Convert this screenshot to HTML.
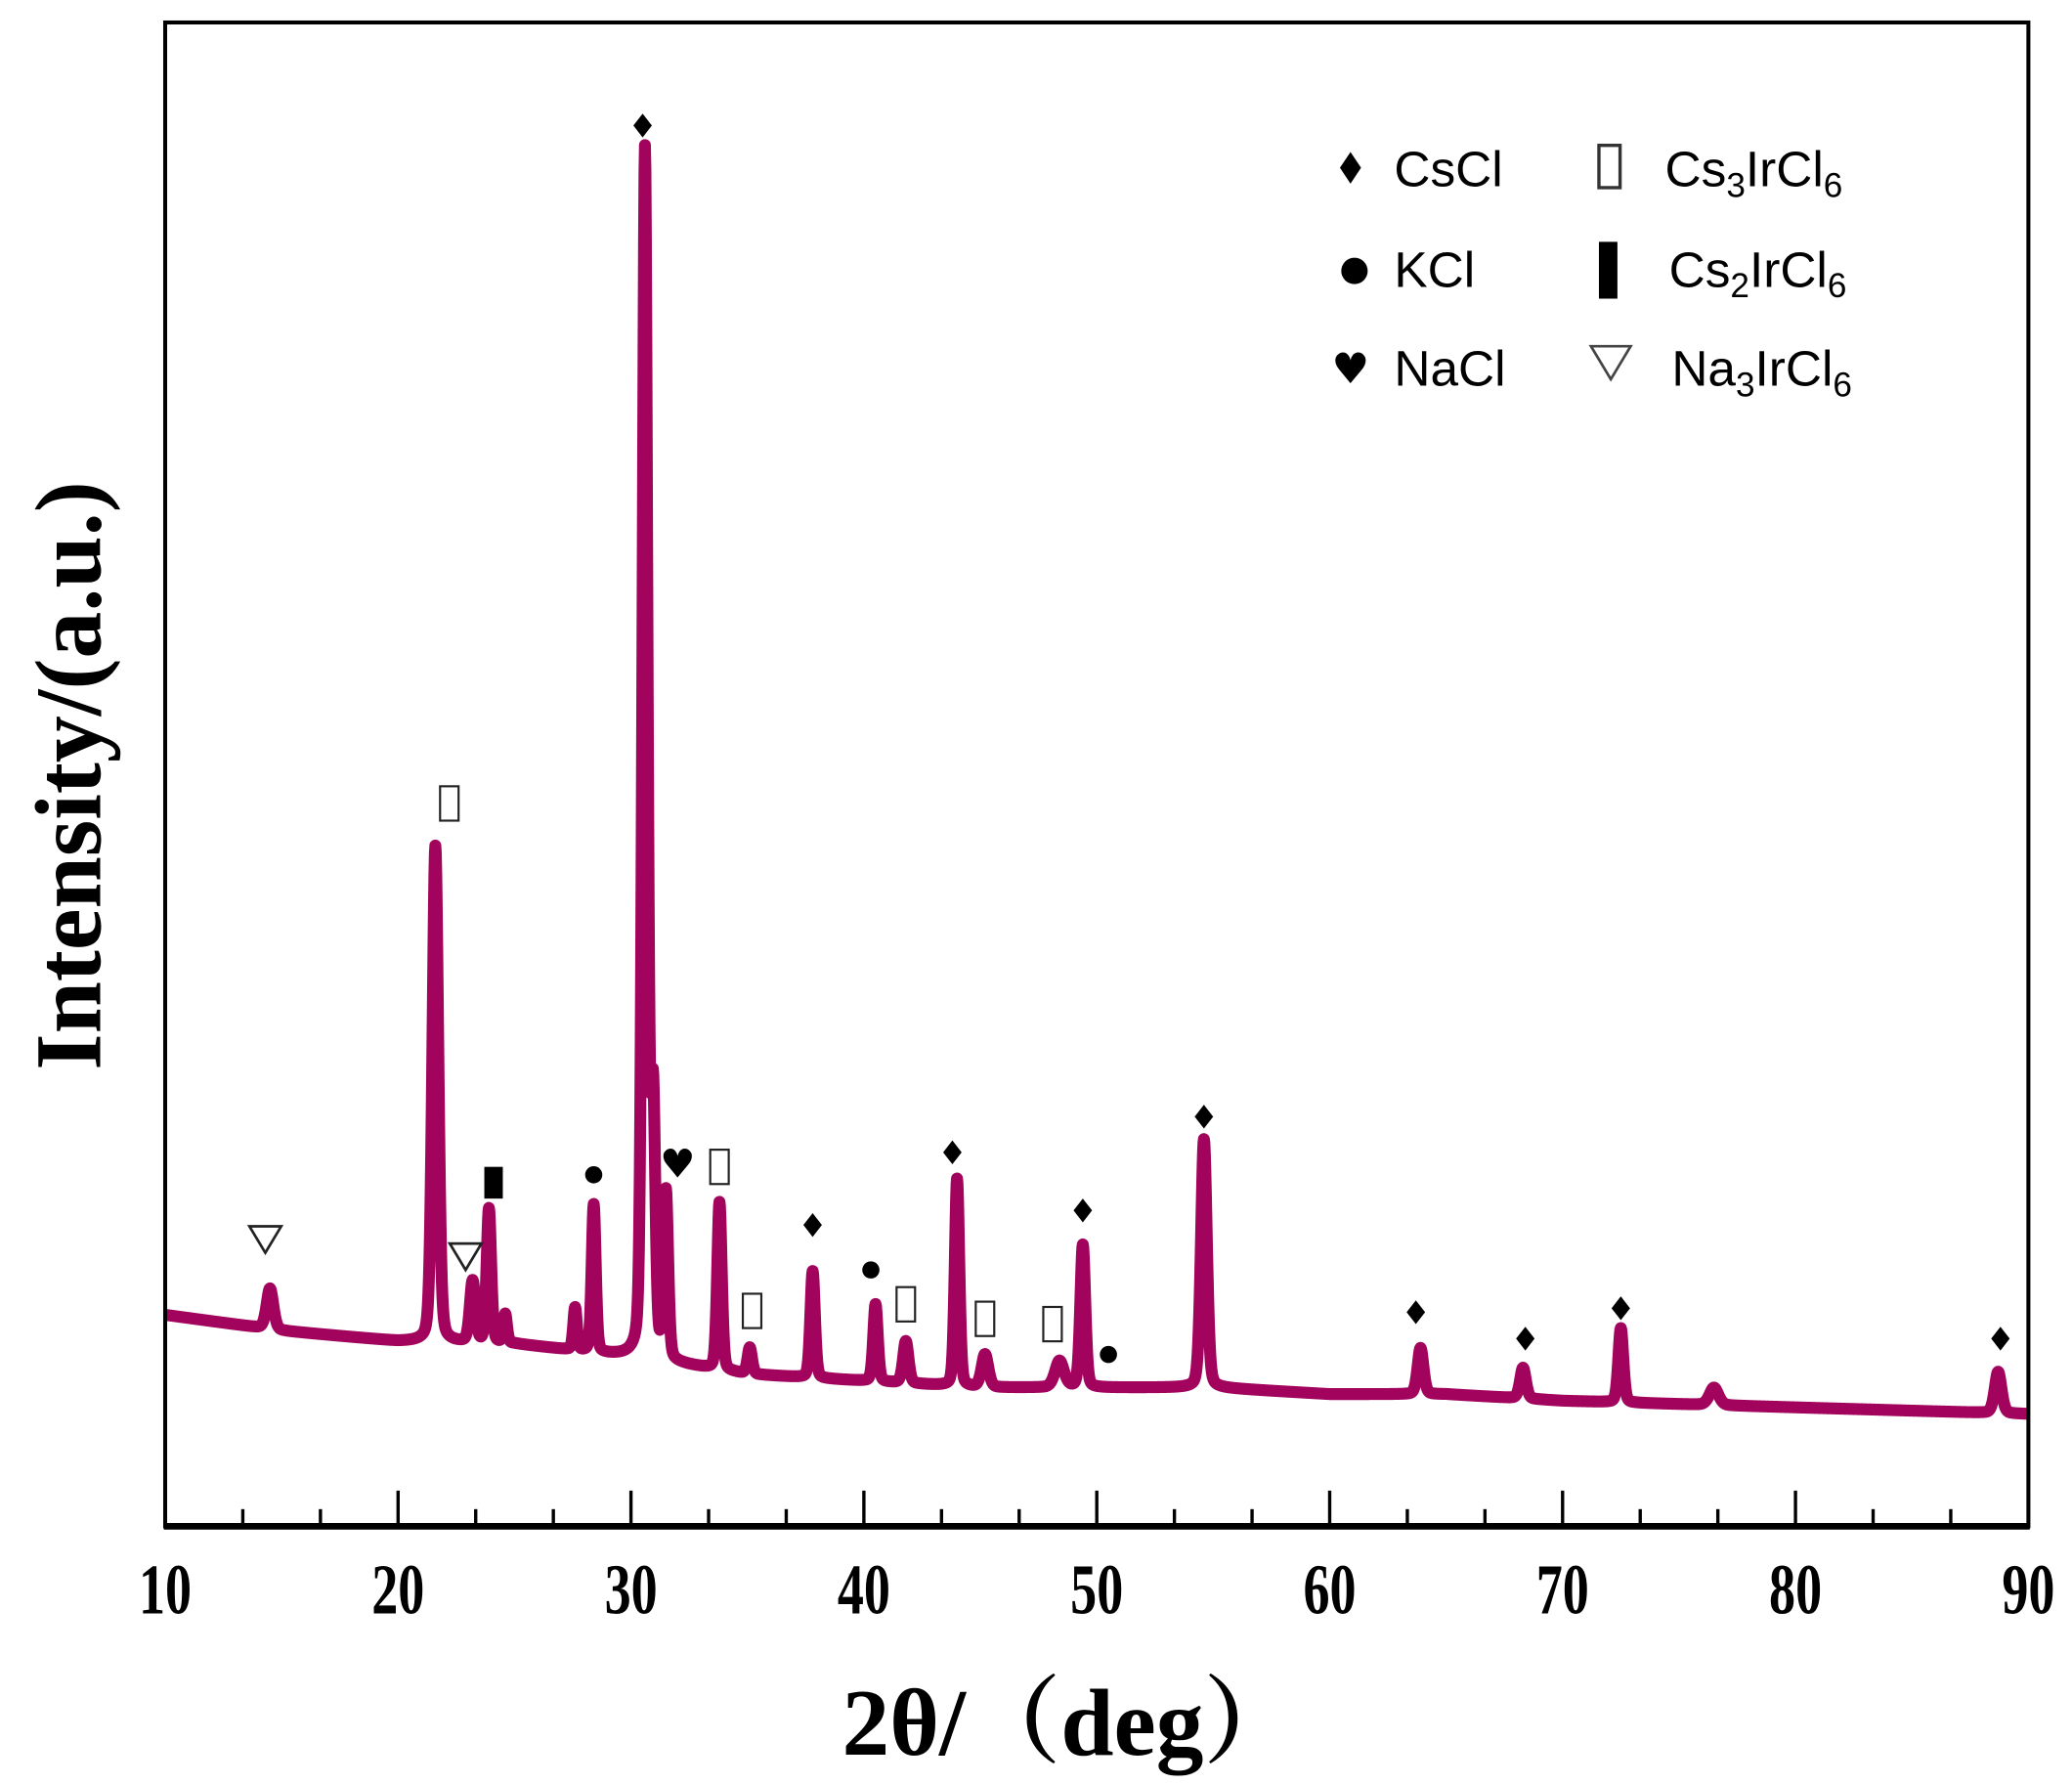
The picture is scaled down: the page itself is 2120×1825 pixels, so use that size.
<!DOCTYPE html>
<html><head><meta charset="utf-8">
<style>
html,body{margin:0;padding:0;background:#fff;}
svg{display:block;}
.tick{font-family:"Liberation Serif",serif;font-weight:bold;font-size:40px;}
.leg{font-family:"Liberation Sans",sans-serif;font-size:38px;}
</style></head>
<body>
<svg id="chart" width="2120" height="1825" viewBox="0 0 1568 1350" preserveAspectRatio="none">
<g id="plot"></g>
<text x="76" y="587" transform="rotate(-90 76 587)" text-anchor="middle" font-family="Liberation Serif,serif" font-weight="bold" font-size="71">Intensity/(a.u.)</text>
<text x="810" y="1328" text-anchor="middle" font-family="Liberation Serif,'Noto Serif CJK SC',serif" font-weight="bold" font-size="72">2θ/（deg）</text>
<g>
 <g>
  <path d="M1022,115 L1030,127 L1022,139 L1014,127Z" fill="#000"/>
  <text class="leg" x="1055" y="141">CsCl</text></g>
 <g>
  <circle cx="1025" cy="205" r="10" fill="#000"/>
  <text class="leg" x="1055" y="217">KCl</text></g>
 <g>
  <text x="1022" y="290" font-size="32" text-anchor="middle" font-family="DejaVu Sans,sans-serif">♥</text>
  <text class="leg" x="1055" y="292">NaCl</text></g>
 <g>
  <rect x="1210" y="110" width="16" height="32" fill="#fff" stroke="#333" stroke-width="2.5"/>
  <text class="leg" x="1260" y="141">Cs<tspan font-size="26" dy="8">3</tspan><tspan dy="-8">IrCl</tspan><tspan font-size="26" dy="8">6</tspan></text></g>
 <g>
  <rect x="1210" y="183" width="14" height="43" fill="#000"/>
  <text class="leg" x="1263" y="217">Cs<tspan font-size="26" dy="8">2</tspan><tspan dy="-8">IrCl</tspan><tspan font-size="26" dy="8">6</tspan></text></g>
 <g>
  <path d="M1204,262 L1234,262 L1219,287Z" fill="none" stroke="#444" stroke-width="2"/>
  <text class="leg" x="1265" y="292">Na<tspan font-size="26" dy="8">3</tspan><tspan dy="-8">IrCl</tspan><tspan font-size="26" dy="8">6</tspan></text></g>
</g>
</svg>
<script>
// ---- data ----
const baseX = [10,15,20,25,30,35,40,45,50,55,60,65,70,80,90];
const baseI = [160,148,140,138,128,115,110,105,105,105,100,100,95,90,85];
const peakPos = [14.5,21.6,23.2,23.9,24.6,27.6,28.4,30.6,30.95,31.5,33.8,35.1,37.8,40.5,41.8,44.0,45.2,48.4,49.4,54.6,63.9,68.3,72.5,76.5,88.7];
const peakTop = [180,515,185,240,160,165,243,1040,315,250,245,135,193,168,140,263,130,125,213,293,135,120,150,105,117];
const peakW   = [0.15,0.13,0.12,0.1,0.08,0.08,0.09,0.11,0.1,0.1,0.1,0.1,0.1,0.1,0.12,0.1,0.15,0.2,0.11,0.13,0.13,0.13,0.11,0.2,0.15];
const markCsCl = [[30.5,1060],[37.8,228],[43.8,283],[49.4,239],[54.6,310],[63.7,162],[68.4,142],[72.5,165],[88.8,142]];
const markKCl = [[28.4,266],[40.3,194],[50.5,130]];
const markNaCl = [[32.0,274]];
const markCs3 = [[22.2,547],[33.8,272],[35.2,163],[41.8,168],[45.2,157],[48.1,153]];
const markCs2 = [[24.1,260]];
const markNa3 = [[14.3,218],[22.9,205]];
const xTicks = [10,20,30,40,50,60,70,80,90];

// ---- scales ----
const L=125,R=1535,T=17,B=1155;
const xs = v => L + (v-10)/80*(R-L);
const ys = v => B - v*(B-T)/1138;
const NS='http://www.w3.org/2000/svg';
const plot=document.getElementById('plot');
function mk(tag,attrs){const e=document.createElementNS(NS,tag);for(const k in attrs)e.setAttribute(k,attrs[k]);plot.appendChild(e);return e;}
function base(x){for(let i=0;i<baseX.length-1;i++){if(x<=baseX[i+1]){const t=(x-baseX[i])/(baseX[i+1]-baseX[i]);return baseI[i]+t*(baseI[i+1]-baseI[i]);}}return baseI[baseI.length-1];}
function inten(x){let v=base(x);for(let i=0;i<peakPos.length;i++){const h=peakTop[i]-base(peakPos[i]);const d=(x-peakPos[i])/peakW[i];v+=h*(0.7*Math.exp(-d*d/2)+0.3/(1+d*d));}return v;}

// line
let d='';
for(let x=10;x<=90.001;x+=0.02){d+=(d?'L':'M')+xs(x).toFixed(2)+','+ys(inten(x)).toFixed(2);}
const line=mk('path',{d:d,fill:'none',stroke:'#a2035c','stroke-width':9,'stroke-linejoin':'round'});



// frame
const fr=mk('rect',{x:L,y:T,width:R-L,height:B-T,fill:'none',stroke:'#000','stroke-width':3});


const xa=mk('line',{x1:L-1,y1:B,x2:R+1,y2:B,stroke:'#000','stroke-width':5});



// ticks
for(let i=0;i<xTicks.length;i++){
  const x=xs(xTicks[i]);
  const t=mk('line',{x1:x,y1:B,x2:x,y2:B-27,stroke:'#000','stroke-width':2.5});
  
  
  const lb=mk('text',{x:0,y:0,'text-anchor':'middle',class:'tick',transform:`translate(${x},1221) scale(1,1.35)`});
  lb.textContent=xTicks[i];
  
  
  if(i<xTicks.length-1){for(const f of [1/3,2/3]){const mx=xs(xTicks[i]+f*10);
    const m=mk('line',{x1:mx,y1:B,x2:mx,y2:B-13,stroke:'#000','stroke-width':2.5});
    
    }}
}

// markers
markCsCl.forEach(p=>{const x=xs(p[0]),y=ys(p[1]);
  const e=mk('path',{d:`M${x},${y-9}L${x+7},${y}L${x},${y+9}L${x-7},${y}Z`,fill:'#000'});
  
  });
markKCl.forEach(p=>{
  const e=mk('circle',{cx:xs(p[0]),cy:ys(p[1]),r:6.5,fill:'#000'});
  
  });
markNaCl.forEach(p=>{
  const e=mk('text',{x:xs(p[0]),y:ys(p[1])+10,'text-anchor':'middle','font-size':30,'font-family':'DejaVu Sans,sans-serif'});
  e.textContent='♥';
  
  });
markCs3.forEach(p=>{
  const e=mk('rect',{x:xs(p[0])-7,y:ys(p[1])-13,width:14,height:26,fill:'#fff',stroke:'#222','stroke-width':1.6});
  
  });
markCs2.forEach(p=>{
  const e=mk('rect',{x:xs(p[0])-7,y:ys(p[1])-12,width:14,height:24,fill:'#000'});
  
  });
markNa3.forEach(p=>{const x=xs(p[0]),y=ys(p[1]);
  const e=mk('path',{d:`M${x-12},${y-9}L${x+12},${y-9}L${x},${y+11}Z`,fill:'#fff',stroke:'#222','stroke-width':2});
  
  });
</script>
</body></html>
